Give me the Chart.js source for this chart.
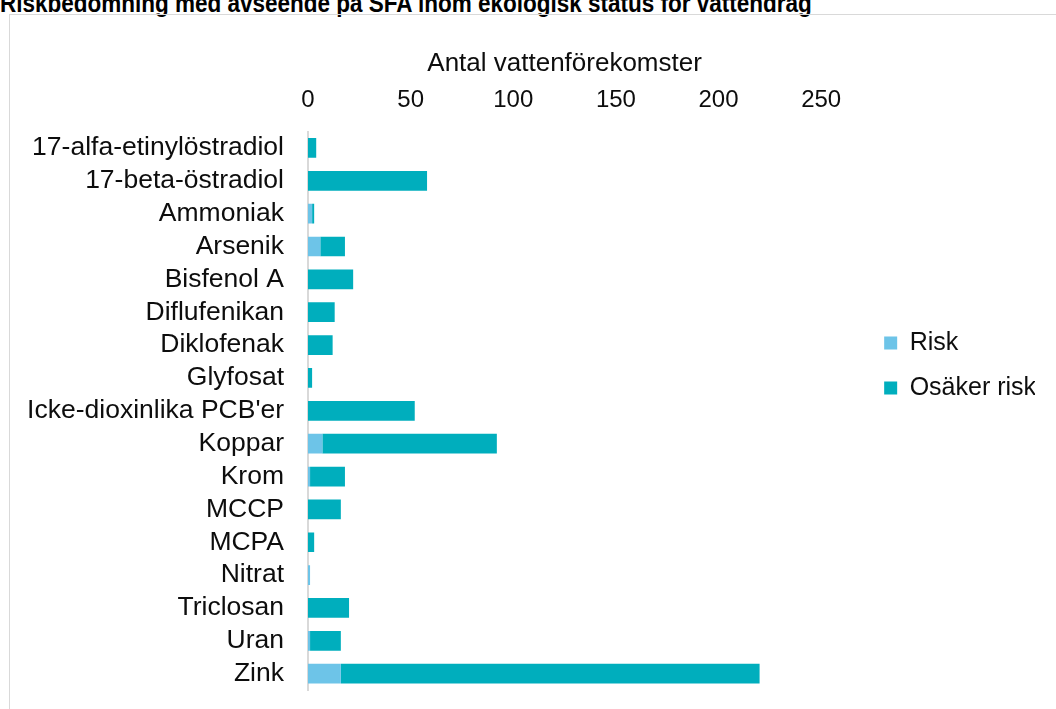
<!DOCTYPE html>
<html>
<head>
<meta charset="utf-8">
<script src="https://cdn.jsdelivr.net/npm/chart.js@4.4.0/dist/chart.umd.min.js"></script>
<style>
  body { margin: 0; background: #fff; width: 1056px; height: 709px; overflow: hidden; position: relative; }
  #heading { position: absolute; left: 0; top: -9px; font-family: "Liberation Sans Narrow", "Liberation Sans", sans-serif; font-weight: bold; font-size: 25px; line-height: 25px; white-space: nowrap; color: #000; transform: scaleX(0.9); transform-origin: 0 0; }
  #frame { position: absolute; left: 9px; top: 14px; width: 1100px; height: 800px; border: 1px solid #d9d9d9; }
  #wrap { position: absolute; left: 10px; top: 21px; width: 1025px; height: 709px; }
</style>
</head>
<body>
<div id="heading">Riskbedömning med avseende på SFA inom ekologisk status för vattendrag</div>
<div id="frame"></div>
<div id="wrap"><canvas id="myChart"></canvas></div>
<script>
// data
const substances = ["17-alfa-etinylöstradiol", "17-beta-östradiol", "Ammoniak", "Arsenik", "Bisfenol A",
  "Diflufenikan", "Diklofenak", "Glyfosat", "Icke-dioxinlika PCB'er", "Koppar", "Krom", "MCCP", "MCPA",
  "Nitrat", "Triclosan", "Uran", "Zink"];
const riskValues =      [0, 0, 2, 6, 0, 0, 0, 0, 0, 7, 1, 0, 0, 1, 0, 1, 16];
const uncertainValues = [4, 58, 1, 12, 22, 13, 12, 2, 52, 85, 17, 16, 3, 0, 20, 15, 204];
const axisMin = 0, axisMax = 250, axisStep = 50;

const textColor = "#0d0d0d";
const fontFamily = '"Liberation Sans", Arial, sans-serif';

new Chart("myChart", {
  type: "bar",
  data: {
    labels: substances,
    datasets: [{
      label: "Risk",
      data: riskValues,
      backgroundColor: "#6dc4e8",
      barPercentage: 0.6,
      categoryPercentage: 1
    }, {
      label: "Osäker risk",
      data: uncertainValues,
      backgroundColor: "#00aebd",
      barPercentage: 0.6,
      categoryPercentage: 1
    }]
  },
  options: {
    indexAxis: "y",
    responsive: true,
    maintainAspectRatio: false,
    animation: false,
    layout: { padding: { top: 0, bottom: 20, left: 0, right: 0 } },
    font: { family: fontFamily },
    scales: {
      x: {
        position: "top",
        stacked: true,
        min: axisMin,
        max: axisMax,
        ticks: { stepSize: axisStep, padding: 17, color: textColor, font: { family: fontFamily, size: 24 } },
        grid: { display: false, drawTicks: false },
        border: { display: false },
        title: { display: true, text: "Antal vattenförekomster", color: textColor,
                 font: { family: fontFamily, size: 26 }, padding: { top: 27, bottom: 0 } },
        afterFit: (s) => { s.height = 110.5; }
      },
      y: {
        stacked: true,
        ticks: { autoSkip: false, padding: 24, color: textColor, font: { family: fontFamily, size: 26.5 } },
        grid: { display: false, drawTicks: false },
        border: { display: true, color: "#d9d9d9", width: 2 },
        afterFit: (s) => { s.width = 298; }
      },
      // empty space between plot and legend
      yPad: {
        axis: "y",
        type: "category",
        position: "right",
        ticks: { display: false },
        grid: { display: false, drawTicks: false },
        border: { display: false },
        afterFit: (s) => { s.width = 43; }
      }
    },
    plugins: {
      legend: {
        position: "right",
        labels: { boxWidth: 13, boxHeight: 13, padding: 20, color: textColor, font: { family: fontFamily, size: 25 } }
      },
      tooltip: { enabled: false }
    }
  }
});
</script>
</body>
</html>
